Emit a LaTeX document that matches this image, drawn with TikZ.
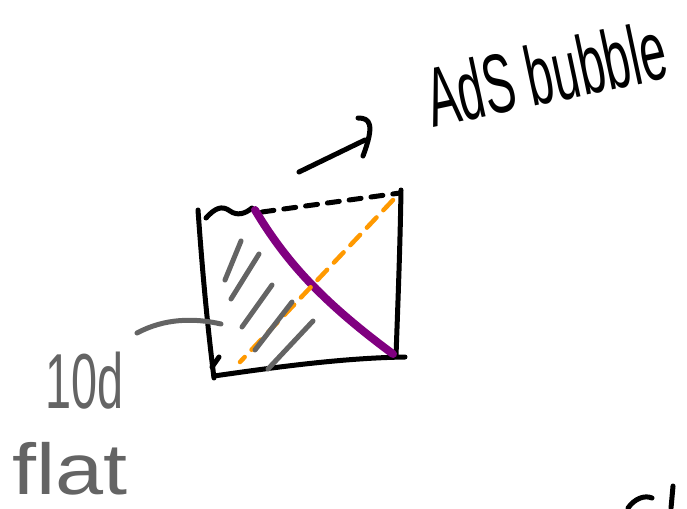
\documentclass[tikz,border=0pt]{standalone}
\usepackage{fontspec}
\setmainfont{Liberation Sans}
\newfontfamily\handA[FakeStretch=0.56]{Liberation Sans}
\newfontfamily\handB[FakeStretch=0.6]{Liberation Sans}
\newfontfamily\handC[FakeStretch=1.2]{Liberation Sans}
\definecolor{pur}{RGB}{128,0,128}
\definecolor{org}{RGB}{255,153,0}
\definecolor{gry}{RGB}{100,100,100}
\begin{document}
\begin{tikzpicture}[x=1pt,y=-1pt,
  ink/.style={line width=5pt,line cap=round,line join=round,black},
  hatch/.style={line width=5pt,line cap=round,gry},
  lbl/.style={inner sep=0pt}]
\useasboundingbox (0,0) rectangle (687,508);
% box
\draw[ink] (198,210) .. controls (203,280) and (208,330) .. (214,378);
\draw[ink] (214,376) .. controls (270,368) and (340,358) .. (405,357);
\draw[ink] (401,190) .. controls (400,250) and (398,300) .. (396,356);
\draw[ink] (206,218) .. controls (215,208) and (222,205) .. (230,211) .. controls (237,216) and (245,214) .. (252,208);
\draw[ink,dash pattern=on 12pt off 10pt] (262,212) -- (400,193);
\draw[ink] (219,357) -- (212,367);
% purple
\draw[line width=8pt,pur,line cap=round] (255,210) .. controls (285,260) and (320,300) .. (393,354);
% orange
\draw[line width=4.5pt,org,line cap=round,dash pattern=on 14pt off 10pt] (393,200) -- (240,362);
% hatches
\draw[hatch] (241,241) -- (225,280);
\draw[hatch] (259,254) -- (231,299);
\draw[hatch] (272,285) -- (242,327);
\draw[hatch] (292,302) -- (255,350);
\draw[hatch] (313,321) -- (268,369);
% label pointer
\draw[hatch] (137,333) .. controls (165,318) and (195,318) .. (221,324);
% arrow
\draw[ink] (299,172) -- (365,140);
\draw[ink] (358,118) .. controls (370,118) and (375,124) .. (363,156);
% texts
\node[lbl,rotate=12,anchor=base west,font=\handA\fontsize{84}{86}\selectfont] (ads) at (433,128) {AdS bubble};
\node[lbl,text=gry,anchor=base west,font=\handB\fontsize{78}{80}\selectfont] (tend) at (45,408) {10d};
\node[lbl,text=gry,anchor=base west,font=\handC\fontsize{72}{74}\selectfont] (flat) at (12,494) {flat};
% bottom-right partial strokes
\draw[ink] (628,508) .. controls (635,498) and (645,495) .. (652,498);
\draw[ink] (673,486) -- (671,508);
\end{tikzpicture}
\end{document}
